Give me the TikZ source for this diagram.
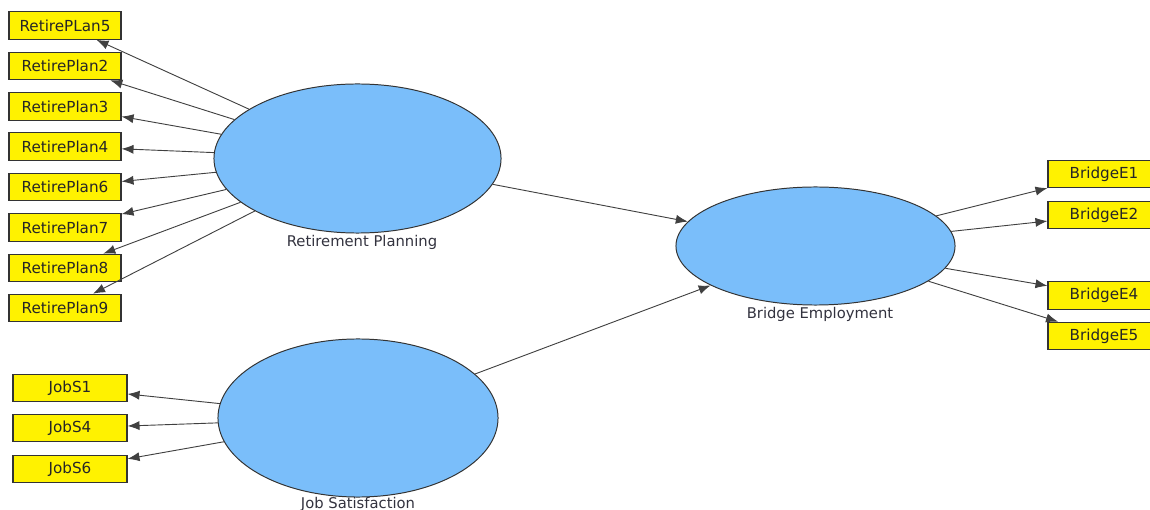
\documentclass[tikz,border=0pt]{standalone}
\usepackage{fontspec}
\setmainfont{DejaVu Sans}
\usetikzlibrary{shapes.geometric, arrows.meta}
\definecolor{latentblue}{RGB}{122,190,250}
\definecolor{lblgray}{RGB}{50,50,62}
\newcommand{\fillcolorlatent}{latentblue}
\newcommand{\fillcolorind}{yellow}
\tikzset{
	ind/.style={draw=black!80, line width=0.8pt, fill=\fillcolorind, minimum width=2.8cm, minimum height=0.69cm, inner sep=0, font=\fontsize{10.8}{13}\selectfont, text=black!85},
	lat/.style={ellipse, draw=black!80, line width=0.7pt, fill=\fillcolorlatent, inner sep=0},
	lbl/.style={font=\fontsize{10.5}{12}\selectfont, text=lblgray},
	load/.style={draw=black!75, line width=0.65pt, -{Latex[length=8.5pt,width=6.5pt]}},
}
\begin{document}
\begin{tikzpicture}[x=0.025cm,y=-0.025cm]
				\useasboundingbox (0,0) rectangle (1150,510);
				% latent variables
				\node [lat, minimum width=7.175cm, minimum height=3.725cm] at (357.5,158.5) (rp) {};
				\node [lat, minimum width=7cm, minimum height=3.95cm] at (358,418) (js) {};
				\node [lat, minimum width=6.975cm, minimum height=2.95cm] at (815.5,246) (be) {};
				\node [lbl] at (362,242) (rplbl) {Retirement Planning};
				\node [lbl] at (358,504) (jslbl) {Job Satisfaction};
				\node [lbl] at (820,314) (belbl) {Bridge Employment};
				
				% indicators
				\foreach \n/\y in {RetirePLan5/25.5, RetirePlan2/66, RetirePlan3/106.5, RetirePlan4/146.5, RetirePlan6/187, RetirePlan7/227.5, RetirePlan8/268, RetirePlan9/308}
				\node [ind] at (65,\y) (\n) {\n};
				\foreach \n/\y in {JobS1/388, JobS4/428, JobS6/469}
				\node [ind, minimum width=2.85cm] at (70,\y) (\n) {\n};
				\foreach \n/\y in {BridgeE1/174, BridgeE2/215, BridgeE4/295.5, BridgeE5/336}
				\node [ind] at (1104,\y) (\n) {\n};
				
				% loadings
				\foreach \n in {RetirePLan5, RetirePlan2, RetirePlan3, RetirePlan4, RetirePlan6, RetirePlan7, RetirePlan8, RetirePlan9}
				\draw [load] (rp) -- (\n);
				\foreach \n in {JobS1, JobS4, JobS6}
				\draw [load] (js) -- (\n);
				\foreach \n in {BridgeE1, BridgeE2, BridgeE4, BridgeE5}
				\draw [load] (be) -- (\n);
				
				% paths
				\draw [load] (rp) -- (be);
				\draw [load] (js) -- (be);
				\end{tikzpicture}
\end{document}
